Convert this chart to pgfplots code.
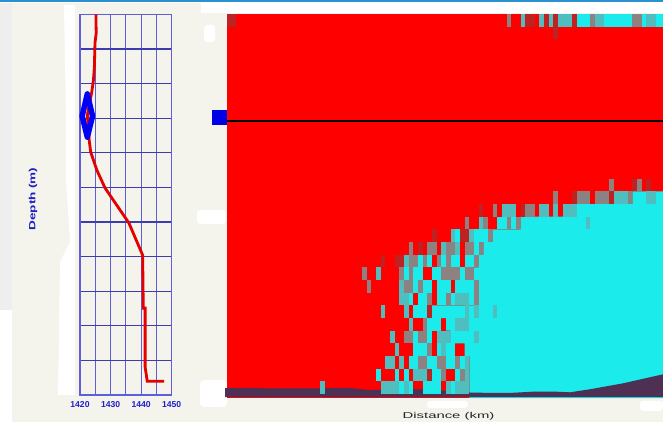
\documentclass[border=0pt]{standalone}
\usepackage{pgfplots}
\pgfplotsset{compat=1.18}
\usepackage{fontspec}
\setmainfont{Liberation Sans}
\definecolor{bgc}{RGB}{244,243,236}
\definecolor{panel}{RGB}{238,238,238}
\definecolor{topbar}{RGB}{42,144,208}
\definecolor{cy}{RGB}{27,235,235}
\definecolor{gc}{RGB}{80,190,190}
\definecolor{gy}{RGB}{140,130,130}
\definecolor{dk}{RGB}{190,35,35}
\definecolor{terr}{RGB}{78,48,84}
\definecolor{gridv}{RGB}{95,95,215}
\definecolor{gridh}{RGB}{60,60,175}
\definecolor{lab}{RGB}{30,30,200}
\pgfdeclareplotmark{cell}{\pgfpathrectangle{\pgfpoint{0pt}{0pt}}{\pgfpoint{4.66pt}{-12.67pt}}\pgfusepathqfill}
\begin{document}
\begin{tikzpicture}[x=1pt,y=1pt]
\useasboundingbox (0,0) rectangle (663,422);
\fill[white] (0,0) rectangle (663,422);
\fill[bgc] (12,0) rectangle (663,419);
\fill[panel] (0,112) rectangle (12,419);
\fill[topbar] (0,420) rectangle (663,422);
\fill[white] (201,409) rectangle (663,419.5);
% white blotches
\fill[white] (64,417) -- (66,300) -- (66,240) -- (70,180) -- (60,160) -- (58,27) -- (75,27) -- (75,417) -- cycle;
\fill[white,rounded corners=3pt] (204,397) rectangle (215,380);
\fill[white,rounded corners=3pt] (197,212) rectangle (226,198);
\fill[white,rounded corners=4pt] (200,42) rectangle (227,15);
\fill[white,rounded corners=3pt] (427,21) rectangle (468,14);
\fill[white,rounded corners=3pt] (640,21) rectangle (663,11);
\begin{axis}[at={(227pt,24pt)},anchor=south west,scale only axis,width=436pt,height=384pt,
  xmin=0,xmax=93.56,ymin=0,ymax=30.31,y dir=reverse,hide axis,clip=false]
\addplot[fill=red,draw=none] coordinates {(0,0)(93.56,0)(93.56,30.31)(0,30.31)} --cycle;
\addplot[fill=cy,draw=none] coordinates {(75,0)(93.56,0)(93.56,1)(75,1)} --cycle;
\addplot[fill=cy,draw=none] coordinates {(93.56,14)(87,14)(87,15)(75,15)(75,16)(63,16)(63,17)(57,17)(57,18)(55,18)(55,19)(54,19)(54,20)(53,20)(53,21)(54,21)(54,23)(44,23)(44,24)(47,24)(47,25)(48,25)(48,26)(51,26)(51,27)(52,27)(52,30.31)(93.56,30.31)} --cycle;
% isolated cyan cells
\addplot[only marks,mark=cell,color=cy] coordinates {
(58,16)(59,16)(61,16)(49,17)(53,17)(54,17)(55,17)(53,18)
(41,19)(43,19)(46,19)(48,19)(49,19)(51,19)(52,19)
(38,20)(40,20)(41,20)(44,20)(45,20)(50,20)
(40,21)(42,21)(43,21)(45,21)(46,21)(47,21)(49,21)(50,21)(51,21)(52,21)
(39,22)(41,22)(42,22)(45,22)(46,22)(48,22)(52,22)
(40,23)(41,23)(42,23)(43,24)(44,24)(45,24)(40,25)(43,25)
(40,26)(41,26)(42,26)(45,26)(47,26)(48,26)
(39,27)(40,27)(43,27)(44,27)(47,27)(48,27)(50,27)
(32,28)(36,28)(38,28)(44,28)(45,28)(49,28)
(37,29)(39,29)(42,29)(43,29)(44,29)(45,29)(48,29)};
% teal-grey cells
\addplot[only marks,mark=cell,color=gc] coordinates {
(63,0)(67,0)(69,0)(71,0)(72,0)(73,0)(79,0)(80,0)(90,0)(91,0)
(83,14)(84,14)(85,14)(90,14)(91,14)
(59,15)(60,15)(61,15)(67,15)(68,15)(70,15)(72,15)(73,15)(74,15)
(54,16)(77,16)(48,17)(52,17)(46,18)(49,18)(38,19)(32,20)(37,21)
(37,22)(38,22)(49,22)(50,22)(51,22)
(33,23)(38,23)(51,23)(53,23)(57,23)
(39,24)(49,24)(50,24)(51,24)
(35,25)(45,25)(46,25)(47,25)(53,25)
(36,26)(46,26)(34,27)(35,27)(37,27)(51,27)
(40,28)(41,28)(42,28)(51,28)
(33,29)(34,29)(35,29)(36,29)(38,29)(47,29)(49,29)(50,29)(51,29)(20,29)};
% grey cells
\addplot[only marks,mark=cell,color=gy] coordinates {
(60,0)(78,0)(87,0)(88,0)(82,13)(88,13)
(70,14)(75,14)(76,14)(77,14)(79,14)(80,14)(81,14)(86,14)
(57,15)(64,15)(65,15)(51,16)(55,16)(60,16)(62,16)(56,17)
(39,18)(43,18)(44,18)(47,18)(48,18)(51,18)(52,18)(54,18)
(39,19)(40,19)(42,19)(45,19)(47,19)(53,19)
(29,20)(37,20)(39,20)(46,20)(47,20)(48,20)(49,20)(51,20)(52,20)
(30,21)(38,21)(39,21)(41,21)(53,21)
(43,22)(47,22)(53,22)(42,24)
(38,25)(39,25)(41,25)(42,25)(43,26)
(41,27)(42,27)(45,27)(46,27)(49,27)(46,28)(50,28)};
% dark red cells
\addplot[only marks,mark=cell,color=dk] coordinates {
(0,0)(1,0)(64,0)(65,0)(68,0)(70,0)(74,0)(70,1)(87,13)(90,13)(74,14)(82,14)
(54,15)(63,15)(44,17)(50,17)(51,17)(41,18)(33,19)(36,19)(37,19)(43,23)(43,28)};
% sea floor
\addplot[fill=terr,draw=none] coordinates {(-0.43,29.52)(15.7,29.56)(26.4,29.52)(30.7,29.68)(39.3,29.6)(45.1,29.68)(52.6,29.89)(60.7,29.91)(65.7,29.81)(70.6,29.81)(73.6,29.86)(77.9,29.62)(85,29.15)(93.56,28.44)(93.56,30.25)(-0.43,30.25)} --cycle;
% source depth line and marker
\addplot[black,line width=1.1pt] coordinates {(-0.2,8.445)(93.56,8.445)};
\addplot[only marks,mark=square*,mark size=7pt,color=blue!90!black] coordinates {(-1.72,8.13)};
\end{axis}
\begin{axis}[at={(80pt,27pt)},anchor=south west,scale only axis,width=91.7pt,height=380.7pt,
  xmin=1420,xmax=1450,ymin=0,ymax=11,y dir=reverse,clip=false,
  xtick={1420,1430,1440,1450},minor xtick={1425,1435,1445},
  ytick={1,2,3,4,5,6,7,8,9,10},yticklabels={},
  major tick length=0pt,minor tick length=0pt,
  xmajorgrids,xminorgrids,ymajorgrids,
  grid style={gridv,line width=1.2pt},
  y grid style={gridh,line width=1.2pt},
  axis line style={gridv,line width=1.2pt},
  tick label style={font=\fontsize{8.6}{10}\selectfont\bfseries,text=lab},
  x tick label style={yshift=-3pt},
  /pgf/number format/.cd,set thousands separator={},assume math mode=true]
\addplot[red!90!black,line width=2.8pt] coordinates {(1425.2,0)(1425.3,0.54)(1424.9,0.83)(1424.7,1.52)(1424.4,1.9)(1423.8,2.27)(1422.4,2.91)(1423,3.63)(1423.5,3.98)(1425.5,4.5)(1428.2,5.02)(1436,6.03)(1440.5,6.96)(1440.7,8.49)(1441.3,8.49)(1441.3,10.19)(1442,10.6)(1447.5,10.6)};
\addplot[blue!95!black,line width=5.5pt,line join=round] coordinates {(1422.4,2.3)(1420.7,2.94)(1422.4,3.55)(1424.1,2.94)} --cycle;
\end{axis}
\node[text=lab,inner sep=0pt] at (33,223) {\rotatebox{90}{\scalebox{1.5}[1]{\fontsize{9}{10}\selectfont\bfseries Depth (m)}}};
\node[text=black!85,inner sep=0pt] at (448.5,6) {\scalebox{1.75}[1]{\fontsize{8.5}{10}\selectfont Distance (km)}};
\end{tikzpicture}
\end{document}
